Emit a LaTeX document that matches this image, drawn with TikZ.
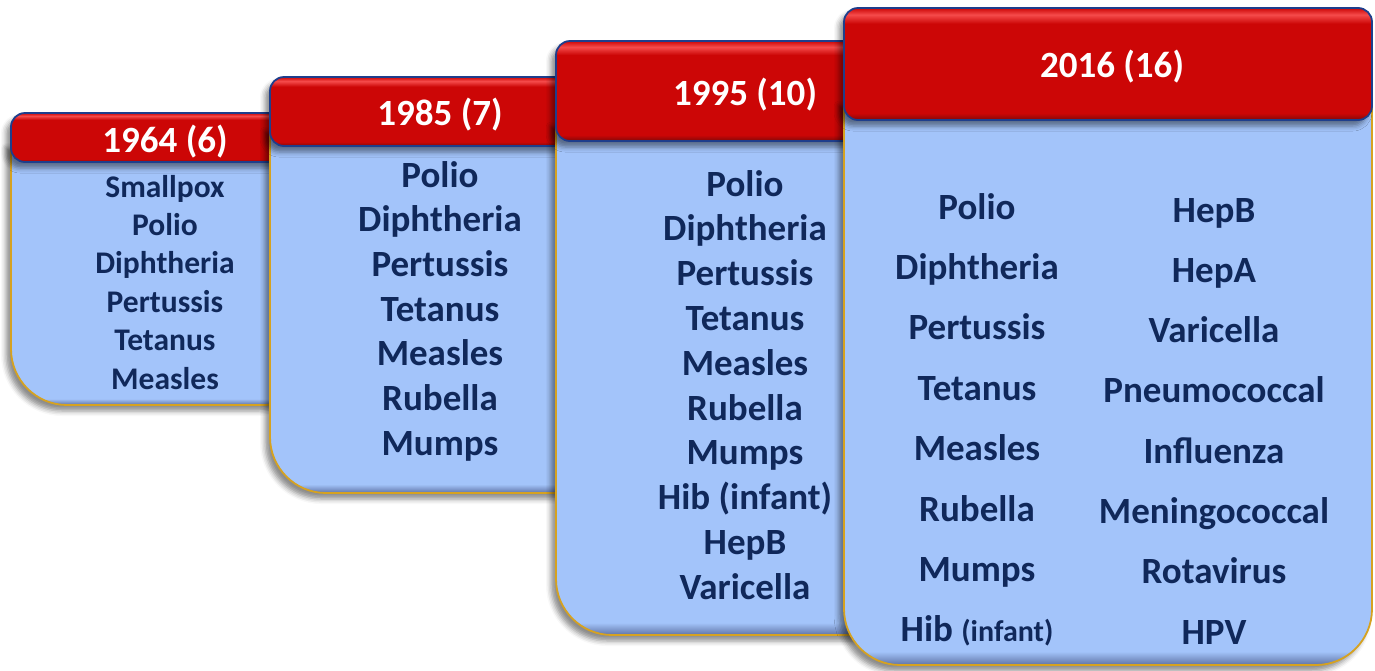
\documentclass[tikz,border=0pt]{standalone}
\usepackage{fontspec}
\setmainfont{Carlito}
\usetikzlibrary{shadows.blur}
\definecolor{hred}{RGB}{204,6,6}
\definecolor{hlight}{RGB}{245,75,75}
\definecolor{hdark}{RGB}{130,8,8}
\definecolor{hborder}{RGB}{30,62,140}
\definecolor{bodyc}{RGB}{163,196,250}
\definecolor{bodydark}{RGB}{95,115,165}
\definecolor{gold}{RGB}{214,162,32}
\definecolor{navy}{RGB}{16,40,90}
\pgfdeclareverticalshading{hdrshade}{100bp}{color(0bp)=(hdark); color(25bp)=(hdark); color(28bp)=(hred); color(68bp)=(hred); color(72bp)=(hlight); color(75bp)=(hred); color(100bp)=(hred)}
\pgfdeclareverticalshading{bodyshade}{100bp}{color(0bp)=(bodydark); color(25bp)=(bodydark); color(26.2bp)=(bodyc); color(100bp)=(bodyc)}
\tikzset{
  cardshadow/.style={blur shadow={shadow xshift=-5pt, shadow yshift=-6pt, shadow blur radius=5pt, shadow opacity=45}},
  bodyshape/.style={shading=bodyshade, draw=gold, line width=1.8pt, cardshadow},
  hdrshape/.style={shading=hdrshade, draw=hborder, line width=1.8pt, rounded corners=14pt, cardshadow},
  hdrtxt/.style={font=\fontsize{37}{40}\selectfont\bfseries, text=white, anchor=base, inner sep=0pt},
  bigtxt/.style={font=\fontsize{37}{40}\selectfont\bfseries, text=navy, anchor=base, inner sep=0pt},
  smalltxt/.style={font=\fontsize{31.5}{34}\selectfont\bfseries, text=navy, anchor=base, inner sep=0pt},
}
\newcommand\mkcard[5]{% L R T HB B
  \shadedraw[bodyshape] (#1,#4-20) {[rounded corners=56pt] -- (#1,#5) -- (#2,#5)} -- (#2,#4-20) -- cycle;
  \shadedraw[hdrshape] (#1,#3) rectangle (#2,#4);
}
\begin{document}
\begin{tikzpicture}[x=1pt,y=-1pt]
\useasboundingbox (0,0) rectangle (1375,670);
% card 1
\mkcard{11}{320}{113}{162}{405}
\node[hdrtxt] (h1) at (165,152) {1964 (6)};
\foreach \t [count=\i] in {Smallpox,Polio,Diphtheria,Pertussis,Tetanus,Measles}
  \node[smalltxt] (a\i) at (165,{197+38.4*(\i-1)}) {\t};
% card 2
\mkcard{270}{612}{77}{146}{493}
\node[hdrtxt] (h2) at (440,125) {1985 (7)};
\foreach \t [count=\i] in {Polio,Diphtheria,Pertussis,Tetanus,Measles,Rubella,Mumps}
  \node[bigtxt] (b\i) at (440,{187+44.7*(\i-1)}) {\t};
% card 3
\mkcard{556}{935}{41}{141}{635}
\node[hdrtxt] (h3) at (745,105) {1995 (10)};
\foreach \t [count=\i] in {Polio,Diphtheria,Pertussis,Tetanus,Measles,Rubella,Mumps,Hib (infant),HepB,Varicella}
  \node[bigtxt] (c\i) at (745,{196+44.8*(\i-1)}) {\t};
% card 4
\mkcard{844}{1372}{8}{120}{665}
\node[hdrtxt] (h4) at (1112,77) {2016 (16)};
\foreach \t [count=\i] in {Polio,Diphtheria,Pertussis,Tetanus,Measles,Rubella,Mumps,{Hib {\fontsize{30}{32}\selectfont(infant)}}}
  \node[bigtxt] (d\i) at (977,{219+60.4*(\i-1)}) {\t};
\foreach \t [count=\i] in {HepB,HepA,Varicella,Pneumococcal,Influenza,Meningococcal,Rotavirus,HPV}
  \node[bigtxt] (e\i) at (1214,{222+60.3*(\i-1)}) {\t};
\end{tikzpicture}
\end{document}
